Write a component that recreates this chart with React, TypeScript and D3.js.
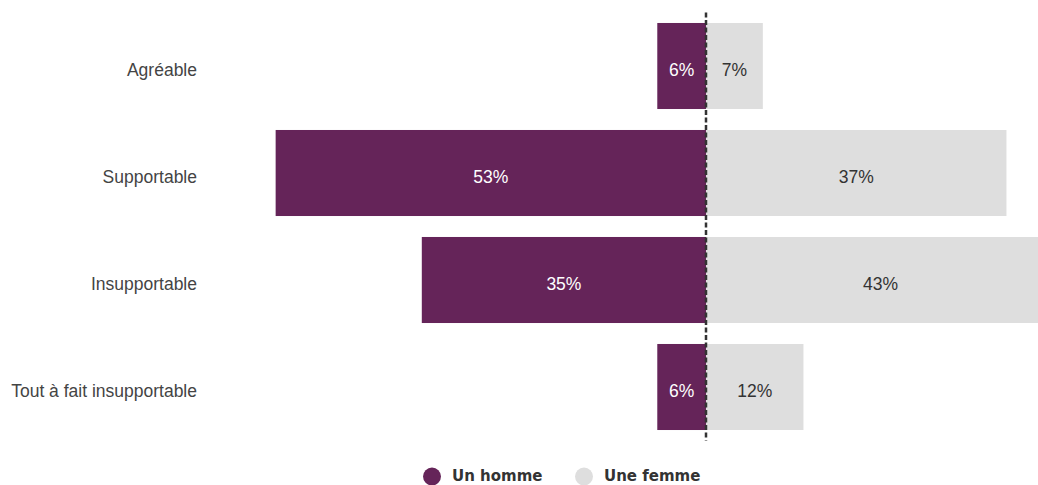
import React from "react";
import * as d3 from "d3";

const categories = ["Agréable", "Supportable", "Insupportable", "Tout à fait insupportable"];
const hommeValues = [6, 53, 35, 6];
const femmeValues = [7, 37, 43, 12];
const seriesNames = ["Un homme", "Une femme"];
const colors = ["#652459", "#dedede"];

export default function App() {
  const W = 1038, H = 485;
  const cx = 706;
  const pxPerPct = 8.12;
  const x = d3.scaleLinear().domain([-60, 60]).range([cx - 60 * pxPerPct, cx + 60 * pxPerPct]);
  const y = d3.scaleBand<string>().domain(categories).range([12.5, 440.5]).paddingInner(0.196).paddingOuter(0.098);
  const font = "'Liberation Sans', Arial, sans-serif";
  return (
    <svg width={W} height={H} style={{ position: "absolute", left: 0, top: 0 }} fontFamily={font}>
      <defs>
        <clipPath id="clip"><rect x={0} y={0} width={W} height={H} /></clipPath>
      </defs>
      <g clipPath="url(#clip)">
        {categories.map((c, i) => {
          const yy = y(c)!;
          const bh = y.bandwidth();
          const hv = hommeValues[i], fv = femmeValues[i];
          const base = yy + bh / 2 + 9.5;
          return (
            <g key={c}>
              <rect x={x(-hv)} y={yy} width={x(0) - x(-hv)} height={bh} fill={colors[0]} />
              <rect x={x(0)} y={yy} width={x(fv) - x(0)} height={bh} fill={colors[1]} />
              <text x={(x(-hv) + x(0)) / 2} y={base} textAnchor="middle" fontSize={17.5} fill="#ffffff">{hv}%</text>
              <text x={(x(fv) + x(0)) / 2} y={base} textAnchor="middle" fontSize={17.5} fill="#333333">{fv}%</text>
              <text x={197} y={base} textAnchor="end" fontSize={17.5} fill="#444444">{c}</text>
            </g>
          );
        })}
        <line x1={x(0)} x2={x(0)} y1={12.5} y2={440.5} stroke="#333333" strokeWidth={2.5} strokeDasharray="5,2.5" />
      </g>
      <g fontSize={15} fontWeight="bold" fill="#333333" fontFamily="'DejaVu Sans', Verdana, sans-serif">
        <circle cx={432} cy={476.5} r={9} fill={colors[0]} />
        <text x={452} y={481}>{seriesNames[0]}</text>
        <circle cx={584} cy={476.5} r={9} fill={colors[1]} />
        <text x={604} y={481}>{seriesNames[1]}</text>
      </g>
    </svg>
  );
}
